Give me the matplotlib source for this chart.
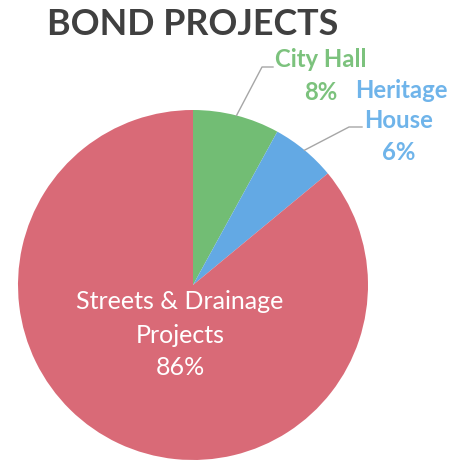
import numpy as np
import matplotlib.pyplot as plt

# bond allocation shares (percent)
categories = ['City Hall', 'Heritage House', 'Streets & Drainage Projects']
shares = [8, 6, 86]
colors = ['#72bd74', '#63a9e4', '#d96a77']
label_colors = ['#7cc27d', '#6fb4ea', '#ffffff']

plt.rcParams['font.family'] = ['Lato', 'DejaVu Sans']

W, H = 457, 461
fig = plt.figure(figsize=(W / 100, H / 100), dpi=100)
ax = fig.add_axes([0, 0, 1, 1])

cx, cy, r = 193, H - 285, 175
wedges, _ = ax.pie(shares, colors=colors, startangle=90, counterclock=False,
                   center=(cx, cy), radius=r, frame=True,
                   wedgeprops=dict(linewidth=0))
ax.set_xlim(0, W)
ax.set_ylim(0, H)
ax.set_aspect('equal')
ax.axis('off')

ax.text(193, H - 35, 'BOND PROJECTS', ha='center', va='baseline',
        fontsize=25.8, fontweight='bold', color='#404040')

# leader lines from wedge mid-angles out to the labels
def edge_point(w):
    a = np.deg2rad((w.theta1 + w.theta2) / 2)
    return cx + r * np.cos(a), cy + r * np.sin(a)

x0, y0 = edge_point(wedges[0])
ax.plot([x0, 262, 273], [y0, H - 67, H - 67], color='#a6a6a6', lw=1)
x1, y1 = edge_point(wedges[1])
ax.plot([x1, 349, 362], [y1, H - 127, H - 127], color='#a6a6a6', lw=1)

bold = dict(ha='center', va='baseline', fontsize=17.2, fontweight='bold')
ax.text(321, H - 67, categories[0], color=label_colors[0], **bold)
ax.text(321, H - 100, f'{shares[0]}%', color=label_colors[0], **bold)
ax.text(401, H - 98, 'Heritage', color=label_colors[1], **bold)
ax.text(399, H - 128, 'House', color=label_colors[1], **bold)
ax.text(399, H - 160, f'{shares[1]}%', color=label_colors[1], **bold)

plain = dict(ha='center', va='baseline', fontsize=18, color=label_colors[2])
ax.text(180, H - 309, 'Streets & Drainage', **plain)
ax.text(180, H - 343, 'Projects', **plain)
ax.text(180, H - 375, f'{shares[2]}%', **plain)

fig.savefig('out.png', dpi=100, facecolor='white')
